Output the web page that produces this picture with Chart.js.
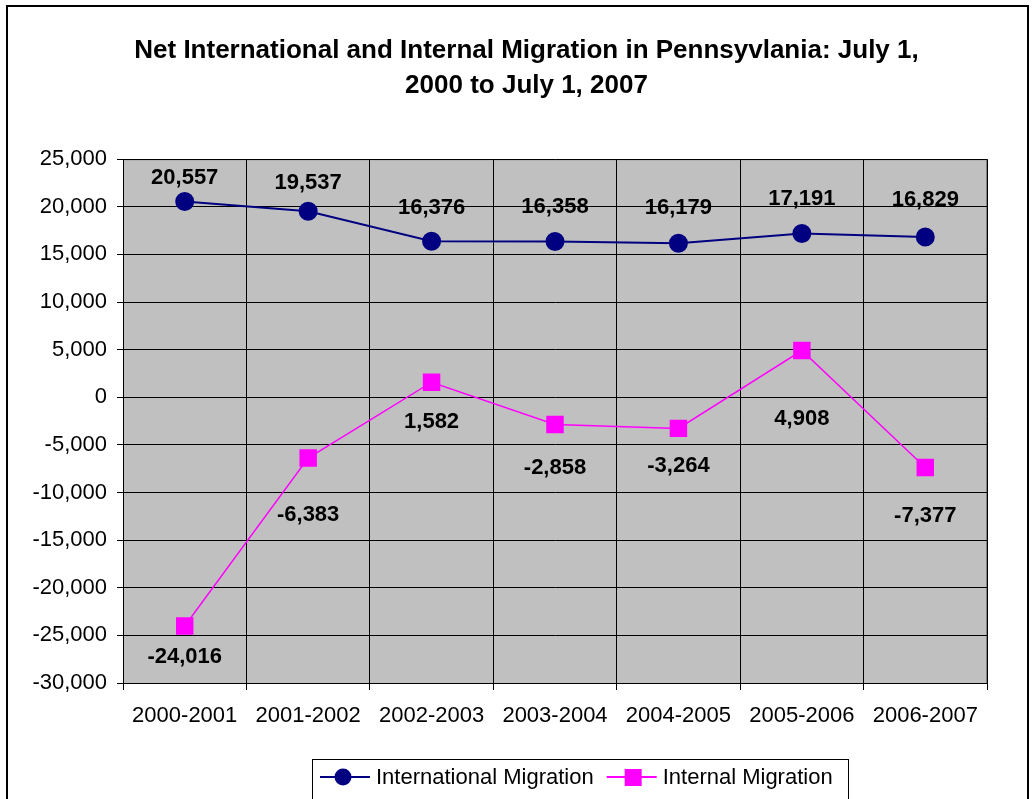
<!DOCTYPE html>
<html>
<head>
<meta charset="utf-8">
<script src="https://cdn.jsdelivr.net/npm/chart.js@4/dist/chart.umd.min.js"></script>
<style>
  html, body { margin: 0; padding: 0; background: #fff; }
  #wrap { width: 1032px; height: 799px; }
</style>
</head>
<body>
<div id="wrap"><canvas id="migrationChart" width="1032" height="799"></canvas></div>
<script>
// données du graphique
const periods = ['2000-2001', '2001-2002', '2002-2003', '2003-2004', '2004-2005', '2005-2006', '2006-2007'];
const internationalMigration = [20557, 19537, 16376, 16358, 16179, 17191, 16829];
const internalMigration = [-24016, -6383, 1582, -2858, -3264, 4908, -7377];
const yTicks = { min: -30000, max: 25000, step: 5000 };

// décalage vertical (px) des étiquettes, placées à la main dans l'original
const intlLabelShift = [-24, -28, -33, -35, -35, -35, -37];
const internalLabelShift = [31, 57, 40, 43, 38, 68, 48];

const FONT = "Arial, 'Liberation Sans', sans-serif";

// fond gris de la zone de tracé + cadre extérieur
const backgroundPlugin = {
    id: 'backgroundPlugin',
    afterLayout(chart) {
        // recentrer le titre sur la page
        if (chart.titleBlock) {
            chart.titleBlock.left += 33;
            chart.titleBlock.right += 33;
        }
    },
    beforeDraw(chart) {
        const ctx = chart.ctx;
        const a = chart.chartArea;
        ctx.save();
        ctx.fillStyle = '#ffffff';
        ctx.fillRect(0, 0, chart.width, chart.height);
        ctx.strokeStyle = '#000000';
        ctx.lineWidth = 2;
        ctx.strokeRect(7, 6, 1021, 850);
        ctx.fillStyle = '#C0C0C0';
        ctx.fillRect(a.left, a.top, a.right - a.left, a.bottom - a.top);
        ctx.strokeStyle = '#808080';
        ctx.lineWidth = 1;
        ctx.strokeRect(a.left + 0.5, a.top + 0.5, a.right - a.left - 1, a.bottom - a.top);
        ctx.restore();
    }
};

// étiquettes de valeurs
const valueLabels = {
    id: 'valueLabels',
    afterDatasetsDraw(chart) {
        const ctx = chart.ctx;
        ctx.save();
        ctx.font = 'bold 22px ' + FONT;
        ctx.fillStyle = '#000000';
        ctx.textAlign = 'center';
        ctx.textBaseline = 'middle';
        chart.data.datasets.forEach((ds, i) => {
            const meta = chart.getDatasetMeta(i);
            meta.data.forEach((pt, j) => {
                ctx.fillText(ds.data[j].toLocaleString('en-US'), pt.x, pt.y + ds.labelShift[j]);
            });
        });
        ctx.restore();
    }
};

// légende façon Excel (ligne + marqueur), dans un cadre
const boxLegend = {
    id: 'boxLegend',
    afterDraw(chart) {
        const ctx = chart.ctx;
        ctx.save();
        ctx.fillStyle = '#ffffff';
        ctx.fillRect(312, 759, 536, 60);
        ctx.strokeStyle = '#000000';
        ctx.lineWidth = 1;
        ctx.strokeRect(312.5, 759.5, 536, 60);
        ctx.font = '22px ' + FONT;
        ctx.textBaseline = 'middle';
        ctx.textAlign = 'left';
        const cy = 777;
        let x = 320;
        chart.data.datasets.forEach((ds) => {
            ctx.strokeStyle = ds.borderColor;
            ctx.lineWidth = 2;
            ctx.beginPath();
            ctx.moveTo(x, cy);
            ctx.lineTo(x + 50, cy);
            ctx.stroke();
            ctx.fillStyle = ds.pointBackgroundColor;
            if (ds.pointStyle === 'circle') {
                ctx.beginPath();
                ctx.arc(x + 23, cy, 8.5, 0, Math.PI * 2);
                ctx.fill();
            } else {
                ctx.fillRect(x + 18, cy - 8, 17, 17);
            }
            ctx.fillStyle = '#000000';
            ctx.fillText(ds.label, x + 56, cy + 1);
            x += 56 + ctx.measureText(ds.label).width + 13;
        });
        ctx.restore();
    }
};

const canvas = document.getElementById('migrationChart');
if (canvas) {
    const ctx = canvas.getContext('2d');
    new Chart(ctx, {
        type: 'line',
        data: {
            labels: periods,
            datasets: [{
                label: 'International Migration',
                data: internationalMigration,
                borderColor: '#000080',
                backgroundColor: '#000080',
                pointBackgroundColor: '#000080',
                pointBorderColor: '#000080',
                pointStyle: 'circle',
                pointRadius: 8.5,
                borderWidth: 2,
                tension: 0,
                labelShift: intlLabelShift
            }, {
                label: 'Internal Migration',
                data: internalMigration,
                borderColor: '#FF00FF',
                backgroundColor: '#FF00FF',
                pointBackgroundColor: '#FF00FF',
                pointBorderColor: '#FF00FF',
                pointStyle: 'rect',
                pointRadius: 11.3,
                borderWidth: 1.5,
                tension: 0,
                labelShift: internalLabelShift
            }]
        },
        options: {
            responsive: false,
            animation: false,
            layout: {
                padding: { left: 0, right: 45, top: 0, bottom: 66 }
            },
            plugins: {
                legend: { display: false },
                tooltip: { enabled: false },
                title: {
                    display: true,
                    text: ['Net International and Internal Migration in Pennsyvlania: July 1,', '2000 to July 1, 2007'],
                    color: '#000000',
                    font: { family: FONT, size: 26, weight: 'bold', lineHeight: 1.35 },
                    padding: { top: 33, bottom: 56 }
                }
            },
            scales: {
                y: {
                    min: yTicks.min,
                    max: yTicks.max,
                    afterFit(scale) { scale.width = 123; },
                    ticks: {
                        stepSize: yTicks.step,
                        color: '#000000',
                        font: { family: FONT, size: 22 },
                        padding: 10,
                        callback: (v) => v.toLocaleString('en-US')
                    },
                    grid: {
                        color: '#000000',
                        lineWidth: 1,
                        tickLength: 6
                    },
                    border: { color: '#000000', width: 1 }
                },
                x: {
                    offset: true,
                    afterFit(scale) { scale.height = 50; },
                    ticks: {
                        color: '#000000',
                        font: { family: FONT, size: 22 },
                        padding: 13,
                        maxRotation: 0
                    },
                    grid: {
                        offset: true,
                        color: '#000000',
                        lineWidth: 1,
                        tickLength: 7
                    },
                    border: { color: '#000000', width: 1 }
                }
            }
        },
        plugins: [backgroundPlugin, valueLabels, boxLegend]
    });
} else {
    console.error("Element migrationChart introuvable.");
}
</script>
</body>
</html>
